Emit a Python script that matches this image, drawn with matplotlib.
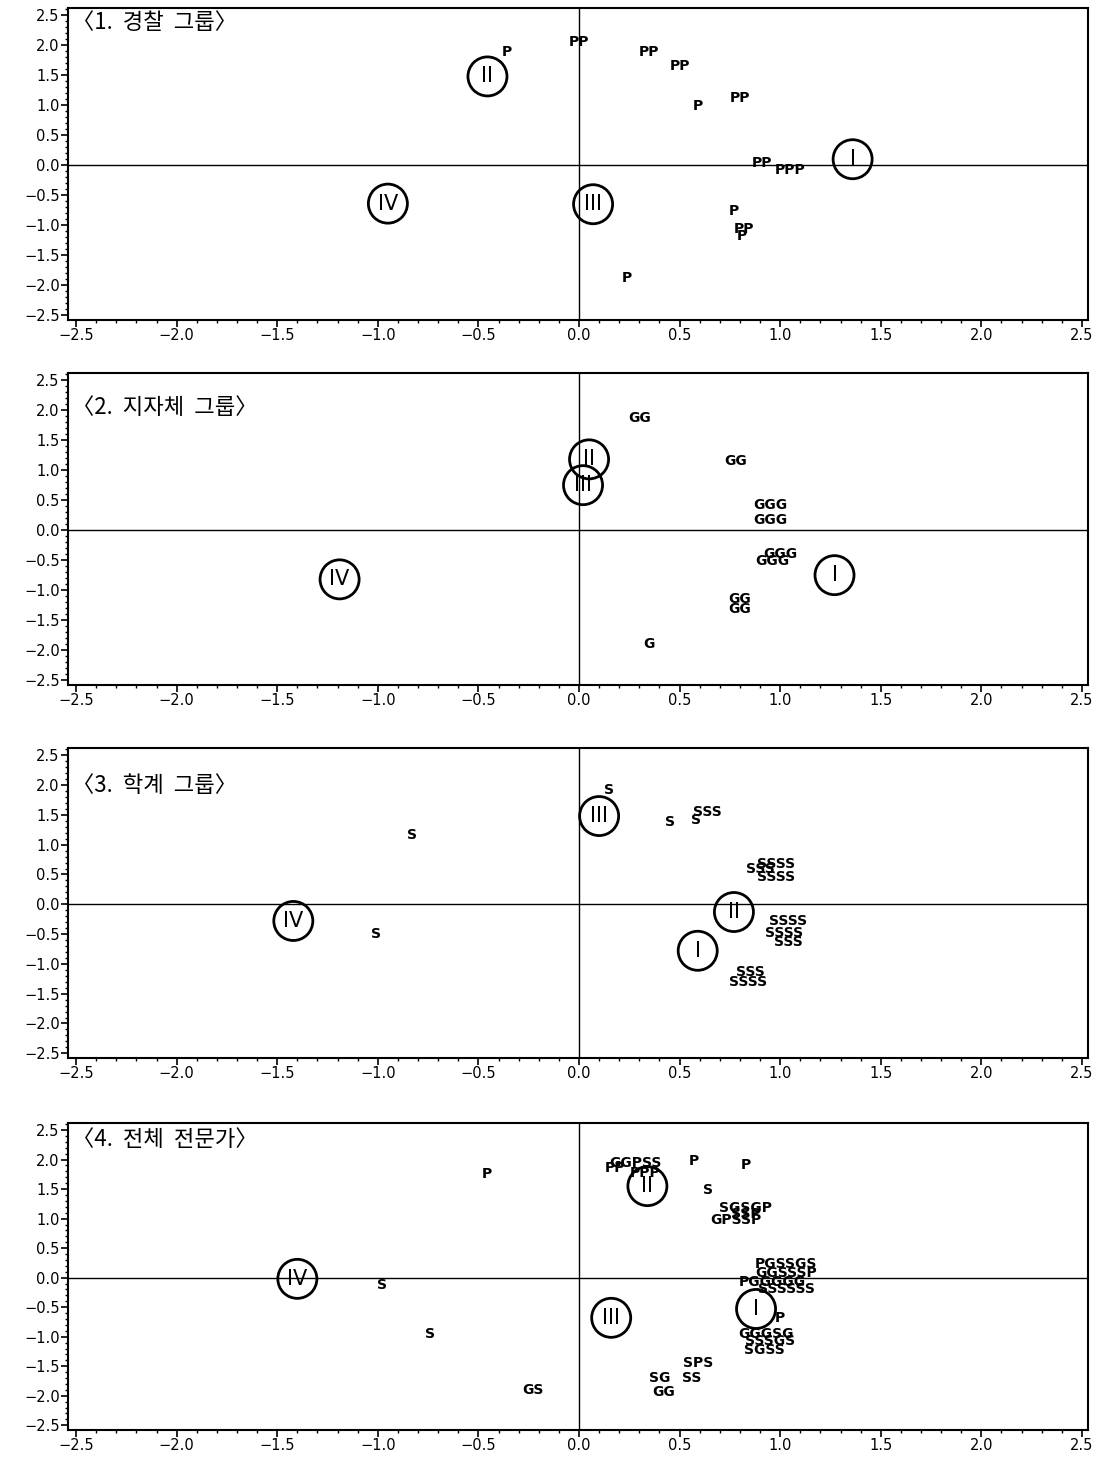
import matplotlib
matplotlib.use('Agg')
import matplotlib.pyplot as plt
from matplotlib.ticker import MultipleLocator, FuncFormatter

plt.rcParams['font.family'] = ['Noto Sans CJK KR', 'DejaVu Sans']

titles = ['〈1.  경찰  그룹〉', '〈2.  지자체  그룹〉', '〈3.  학계  그룹〉', '〈4.  전체  전문가〉']
roman = ['I', 'II', 'III', 'IV']

# 1. police group
police_text = ['P', 'PP', 'PP', 'PP', 'P', 'PP', 'PP', 'PPP', 'P', 'PP', 'P', 'P']
police_x = [-0.36, 0.00, 0.35, 0.50, 0.59, 0.80, 0.91, 1.05, 0.77, 0.82, 0.81, 0.24]
police_y = [1.88, 2.05, 1.88, 1.65, 0.98, 1.12, 0.04, -0.08, -0.76, -1.07, -1.18, -1.88]
police_rx = [1.36, -0.455, 0.07, -0.95]
police_ry = [0.10, 1.48, -0.65, -0.64]

# 2. local government group
local_text = ['GG', 'GG', 'GGG', 'GGG', 'GGG', 'GGG', 'GG', 'GG', 'G']
local_x = [0.30, 0.78, 0.95, 0.95, 1.00, 0.96, 0.80, 0.80, 0.35]
local_y = [1.87, 1.15, 0.42, 0.17, -0.40, -0.52, -1.15, -1.32, -1.90]
local_rx = [1.27, 0.05, 0.02, -1.19]
local_ry = [-0.75, 1.18, 0.75, -0.82]

# 3. academic group
acad_text = ['S', 'S', 'SSS', 'S', 'SSSS', 'SSS', 'SSSS', 'SSSS', 'SSSS', 'SSS',
             'SSS', 'SSSS', 'S', 'S']
acad_x = [0.15, 0.45, 0.64, 0.58, 0.98, 0.90, 0.98, 1.04, 1.02, 1.04,
          0.85, 0.84, -0.83, -1.01]
acad_y = [1.92, 1.38, 1.55, 1.42, 0.68, 0.60, 0.45, -0.28, -0.48, -0.63,
          -1.13, -1.30, 1.17, -0.50]
acad_rx = [0.59, 0.77, 0.10, -1.42]
acad_ry = [-0.78, -0.13, 1.48, -0.28]

# 4. all experts
all_text = ['GGPSS', 'PP', 'PPP', 'P', 'P', 'S', 'SGSGP', 'SSP', 'GPSSP',
            'PGSSGS', 'GGSSSP', 'PGGGGG', 'SSSSSS', 'P', 'GGGSG', 'SSSGS', 'SGSS',
            'SPS', 'SG', 'SS', 'GG', 'P', 'S', 'S', 'GS']
all_x = [0.28, 0.18, 0.33, 0.57, 0.83, 0.64, 0.83, 0.83, 0.78,
         1.03, 1.03, 0.96, 1.03, 1.00, 0.93, 0.95, 0.92,
         0.59, 0.40, 0.56, 0.42, -0.46, -0.98, -0.74, -0.23]
all_y = [1.95, 1.85, 1.77, 1.97, 1.90, 1.48, 1.18, 1.08, 0.98,
         0.23, 0.08, -0.07, -0.20, -0.68, -0.95, -1.07, -1.23,
         -1.45, -1.70, -1.70, -1.93, 1.75, -0.12, -0.95, -1.90]
all_rx = [0.88, 0.34, 0.16, -1.40]
all_ry = [-0.53, 1.55, -0.68, -0.02]


def fmt(v, pos):
    s = '%.1f' % abs(v)
    return ('\u2212' + s) if v < -1e-9 else s


def draw_panel(ax, title, title_y, text, xs, ys, rx, ry):
    ax.set_xlim(-2.54, 2.53)
    ax.set_ylim(-2.58, 2.62)
    ax.axhline(0, color='black', lw=1.0)
    ax.axvline(0, color='black', lw=1.0)

    for t, x, y in zip(text, xs, ys):
        ax.text(x, y, t, ha='center', va='center', fontsize=10,
                fontweight='bold', family='DejaVu Sans')

    ax.scatter(rx, ry, s=790, facecolors='none', edgecolors='black',
               linewidths=2.0, zorder=3)
    for r, x, y in zip(roman, rx, ry):
        ax.text(x, y, r, ha='center', va='center', fontsize=15,
                family='DejaVu Sans', zorder=4)

    ax.text(0.004, title_y, title, transform=ax.transAxes, ha='left',
            va='center', fontsize=16)

    ax.xaxis.set_major_locator(MultipleLocator(0.5))
    ax.xaxis.set_minor_locator(MultipleLocator(0.1))
    ax.yaxis.set_major_locator(MultipleLocator(0.5))
    ax.yaxis.set_minor_locator(MultipleLocator(0.1))
    ax.xaxis.set_major_formatter(FuncFormatter(fmt))
    ax.yaxis.set_major_formatter(FuncFormatter(fmt))
    ax.tick_params(which='major', direction='out', length=5, width=1.2,
                   labelsize=10.5, pad=1)
    ax.tick_params(which='minor', direction='out', length=2.5, width=1.0)
    for lab in ax.get_xticklabels() + ax.get_yticklabels():
        lab.set_family('DejaVu Sans')
    for sp in ax.spines.values():
        sp.set_linewidth(1.5)


def main():
    fig = plt.figure(figsize=(11.02, 14.58), dpi=100)
    fig.set(facecolor='white')

    left, width = 0.0617, 0.9256
    boxes = [(0.7805, 0.214), (0.5302, 0.214), (0.2743, 0.2126), (0.0192, 0.2106)]
    title_ys = [0.955, 0.89, 0.88, 0.945]
    panels = [
        (police_text, police_x, police_y, police_rx, police_ry),
        (local_text, local_x, local_y, local_rx, local_ry),
        (acad_text, acad_x, acad_y, acad_rx, acad_ry),
        (all_text, all_x, all_y, all_rx, all_ry),
    ]

    for i, (b, h) in enumerate(boxes):
        ax = fig.add_axes([left, b, width, h])
        draw_panel(ax, titles[i], title_ys[i], *panels[i])

    fig.savefig('out.png', dpi=100)


main()
